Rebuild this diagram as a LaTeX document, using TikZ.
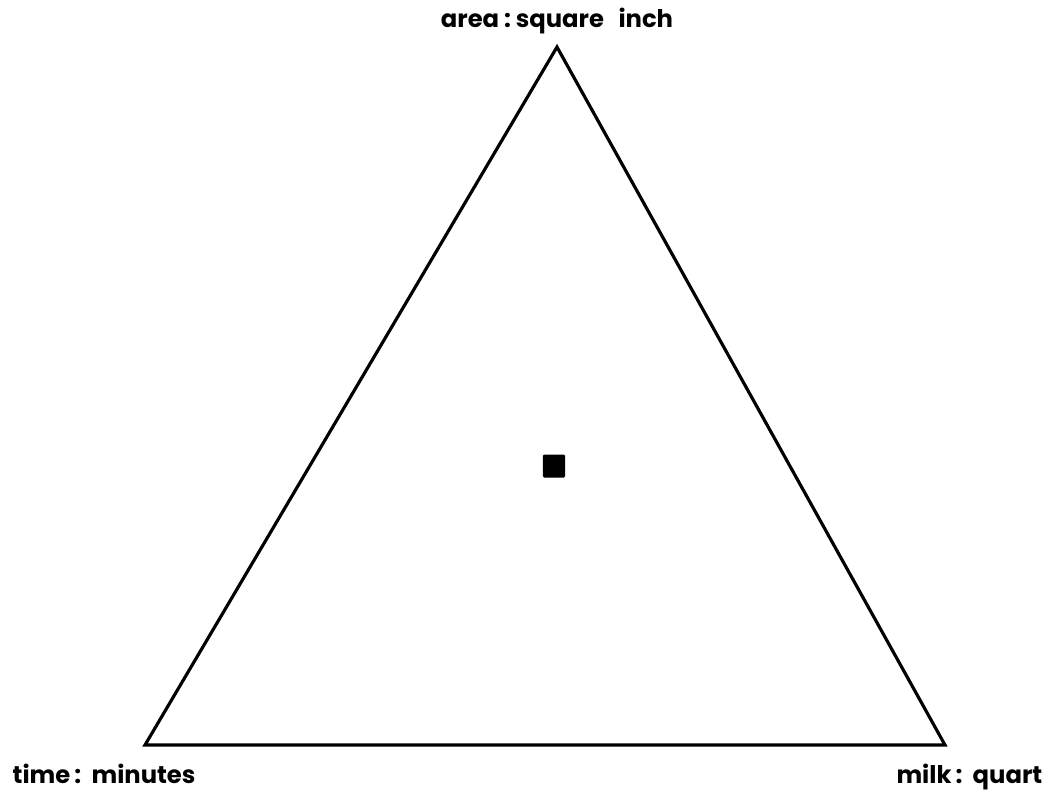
\documentclass[tikz,border=0pt]{standalone}
\usepackage{fontspec}
\setmainfont{Poppins}
\begin{document}
\begin{tikzpicture}[x=0.01cm,y=-0.01cm,
  edge/.style={line width=0.9pt,line join=miter},
  lbl/.style={font=\fontsize{6.9}{8}\selectfont\bfseries,inner sep=0pt},
  dot/.style={fill=black,draw=none,minimum width=0.22cm,minimum height=0.23cm,inner sep=0pt,rounded corners=0.3pt}]
\useasboundingbox (0,0) rectangle (1050,793);
\coordinate (top) at (557,47);
\coordinate (bl) at (145,745);
\coordinate (br) at (945,745);
\draw[edge] (top) -- (br) -- (bl) -- cycle;
\node[dot] (sq) at (554,466) {};
\node[lbl,anchor=base] (area) at (557,27) {area\hspace{0.2em}:\hspace{0.2em}square\hspace{0.6em}inch};
\node[lbl,anchor=base west] (time) at (12,783) {time\,:\ \ minutes};
\node[lbl,anchor=base east] (milk) at (1043,783) {milk\,:\ \ quart};
\end{tikzpicture}
\end{document}
